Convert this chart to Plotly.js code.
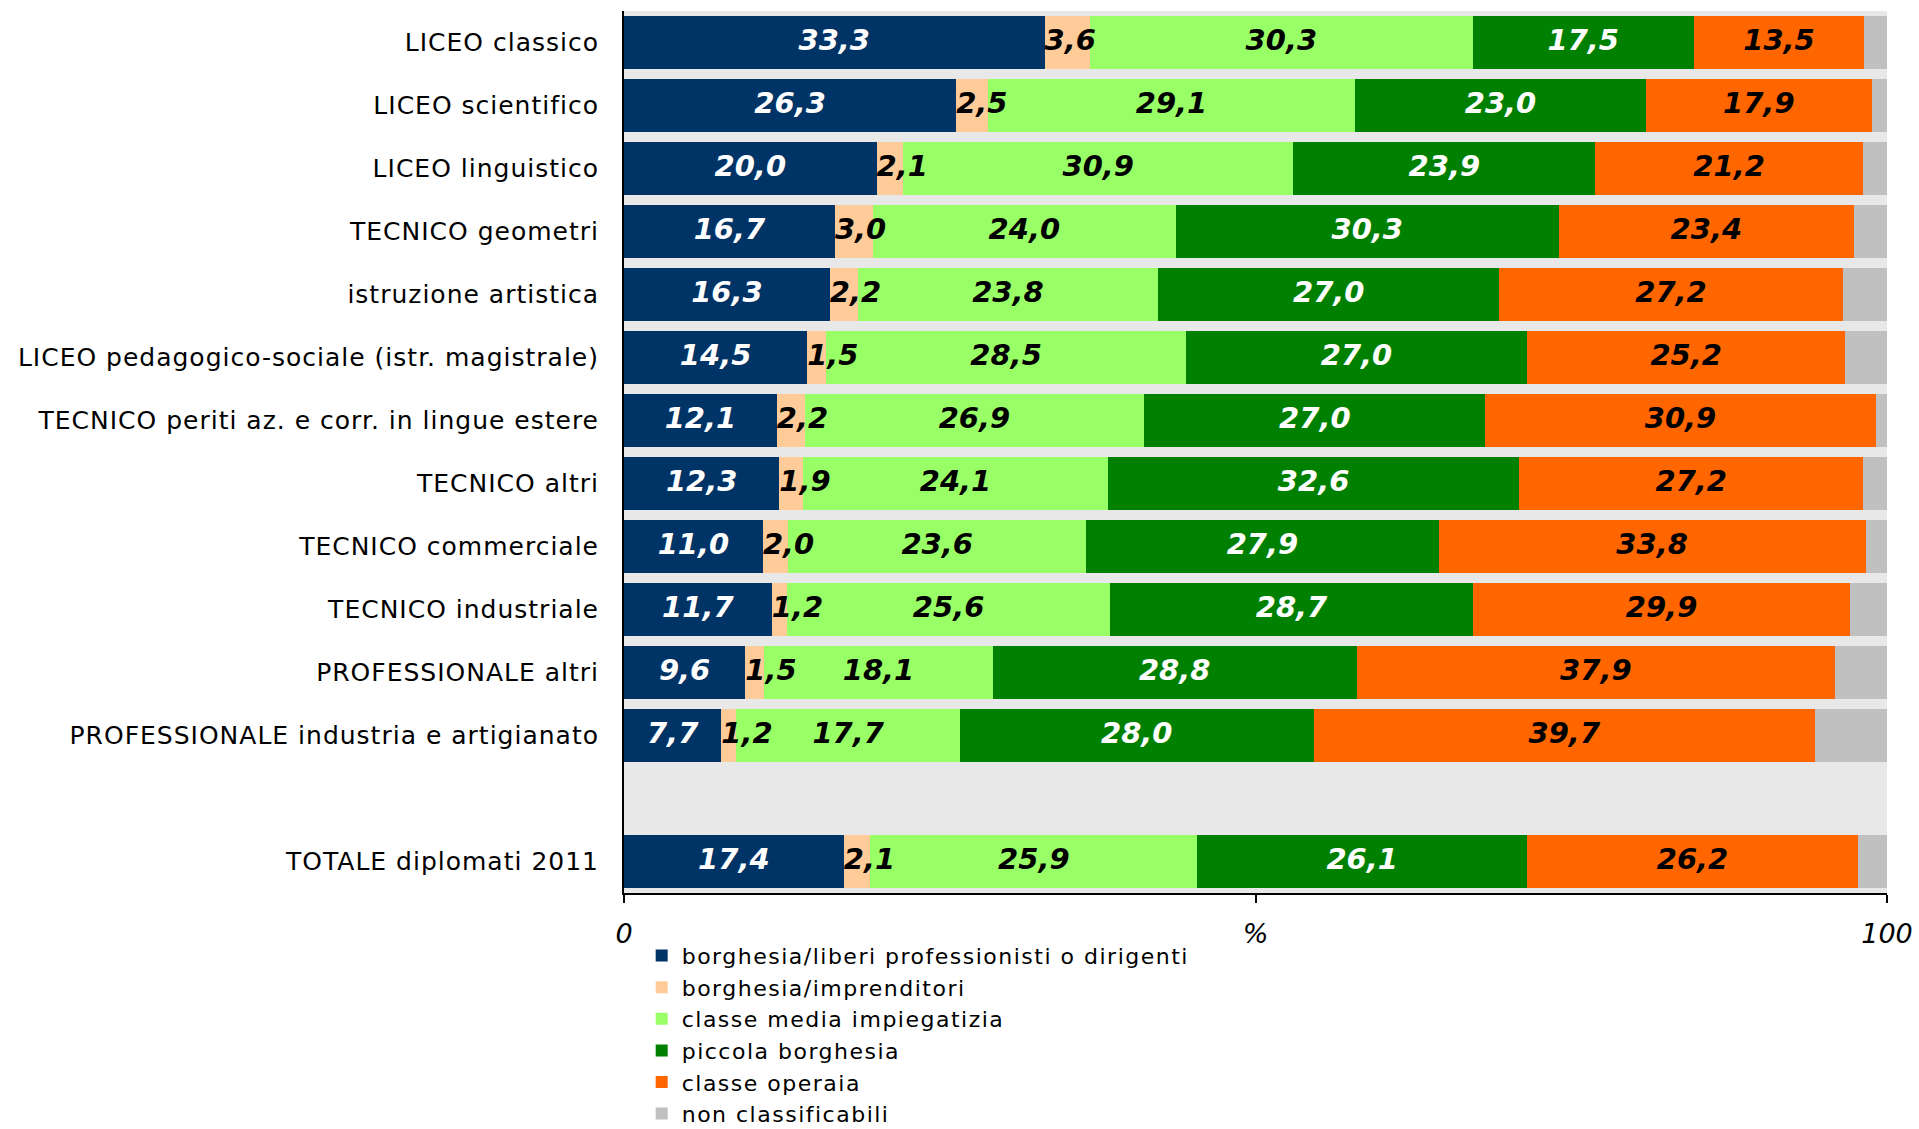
<!DOCTYPE html>
<html>
<head>
<meta charset="utf-8">
<script src="https://cdn.plot.ly/plotly-3.0.1.min.js"></script>
<style>
html,body{margin:0;padding:0;background:#fff;}
#chart{width:1919px;height:1129px;}
#chart .ytick text{letter-spacing:1px;}
.legendtext{letter-spacing:1.5px;}
</style>
</head>
<body>
<div id="chart"></div>
<script>
var categories = [
  "LICEO classico",
  "LICEO scientifico",
  "LICEO linguistico",
  "TECNICO geometri",
  "istruzione artistica",
  "LICEO pedagogico-sociale (istr. magistrale)",
  "TECNICO periti az. e corr. in lingue estere",
  "TECNICO altri",
  "TECNICO commerciale",
  "TECNICO industriale",
  "PROFESSIONALE altri",
  "PROFESSIONALE industria e artigianato",
  " ",
  "TOTALE diplomati 2011"
];
var seriesNames = [
  "borghesia/liberi professionisti o dirigenti",
  "borghesia/imprenditori",
  "classe media impiegatizia",
  "piccola borghesia",
  "classe operaia",
  "non classificabili"
];
var liberi       = [33.3, 26.3, 20.0, 16.7, 16.3, 14.5, 12.1, 12.3, 11.0, 11.7, 9.6, 7.7, null, 17.4];
var imprenditori = [3.6, 2.5, 2.1, 3.0, 2.2, 1.5, 2.2, 1.9, 2.0, 1.2, 1.5, 1.2, null, 2.1];
var impiegatizia = [30.3, 29.1, 30.9, 24.0, 23.8, 28.5, 26.9, 24.1, 23.6, 25.6, 18.1, 17.7, null, 25.9];
var piccola      = [17.5, 23.0, 23.9, 30.3, 27.0, 27.0, 27.0, 32.6, 27.9, 28.7, 28.8, 28.0, null, 26.1];
var operaia      = [13.5, 17.9, 21.2, 23.4, 27.2, 25.2, 30.9, 27.2, 33.8, 29.9, 37.9, 39.7, null, 26.2];
var nonClass     = [1.8, 1.2, 1.9, 2.6, 3.5, 3.3, 0.9, 1.9, 1.7, 2.9, 4.1, 5.7, null, 2.3];
var xTickVals = [0, 50, 100];
var xTickText = ["0", "%", "100"];

var seriesValues = [liberi, imprenditori, impiegatizia, piccola, operaia, nonClass];
var colors = ["#003366", "#FFCC99", "#99FF66", "#008000", "#FF6600", "#C0C0C0"];
var textColors = ["#FFFFFF", "#000000", "#000000", "#FFFFFF", "#000000", "#000000"];
var FONT = "DejaVu Sans, Verdana, sans-serif";

var traces = [];
seriesValues.forEach(function(vals, i){
  traces.push({
    type: "bar",
    orientation: "h",
    name: seriesNames[i],
    y: categories,
    x: vals,
    marker: {color: colors[i], line: {width: 0}},
    textposition: "none",
    hoverinfo: "name+x"
  });
});

// value labels (positions derived from the data): centred on each segment,
// except the narrow "imprenditori" segment whose label starts at the segment's left edge
var cumulative = categories.map(function(){ return 0; });
seriesValues.forEach(function(vals, i){
  var leftAligned = (i === 1);
  var pos = vals.map(function(v, k){
    if (v === null) return null;
    var p = leftAligned ? cumulative[k] : cumulative[k] + v / 2;
    cumulative[k] += v;
    return p;
  });
  if (i < 5) {
    traces.push({
      type: "scatter",
      mode: "text",
      x: pos,
      y: categories,
      customdata: vals,
      texttemplate: "%{customdata:.1f}",
      textposition: leftAligned ? "middle right" : "middle center",
      textfont: {family: FONT, size: 29, color: textColors[i], weight: "bold", style: "italic"},
      cliponaxis: false,
      showlegend: false,
      hoverinfo: "skip"
    });
  }
});

var layout = {
  width: 1919,
  height: 1129,
  separators: ",.",
  barmode: "stack",
  bargap: 0.16,
  paper_bgcolor: "#FFFFFF",
  plot_bgcolor: "#E8E8E8",
  margin: {l: 624, r: 32, t: 11, b: 236},
  font: {family: FONT, color: "#000000"},
  xaxis: {
    range: [0, 100],
    tickvals: xTickVals,
    ticktext: xTickText,
    ticks: "outside",
    ticklen: 8,
    tickwidth: 2,
    tickcolor: "#000000",
    ticklabelstandoff: 8,
    showline: true,
    linecolor: "#000000",
    linewidth: 2,
    showgrid: false,
    zeroline: false,
    tickfont: {family: FONT, size: 27, style: "italic", color: "#000000"},
    fixedrange: true
  },
  yaxis: {
    type: "category",
    categoryorder: "array",
    categoryarray: categories,
    range: [13.5, -0.5],
    showline: true,
    linecolor: "#000000",
    linewidth: 2,
    ticks: "",
    ticklabelstandoff: 18,
    showgrid: false,
    zeroline: false,
    tickfont: {family: FONT, size: 25, color: "#000000"},
    fixedrange: true
  },
  showlegend: true,
  legend: {
    xref: "paper",
    x: 0.014,
    xanchor: "left",
    yref: "container",
    y: 0.172,
    yanchor: "top",
    traceorder: "normal",
    orientation: "v",
    bgcolor: "rgba(0,0,0,0)",
    font: {family: FONT, size: 22, color: "#000000"},
    itemwidth: 30,
    tracegroupgap: 0
  }
};

Plotly.newPlot("chart", traces, layout, {displayModeBar: false, staticPlot: true});
</script>
</body>
</html>
